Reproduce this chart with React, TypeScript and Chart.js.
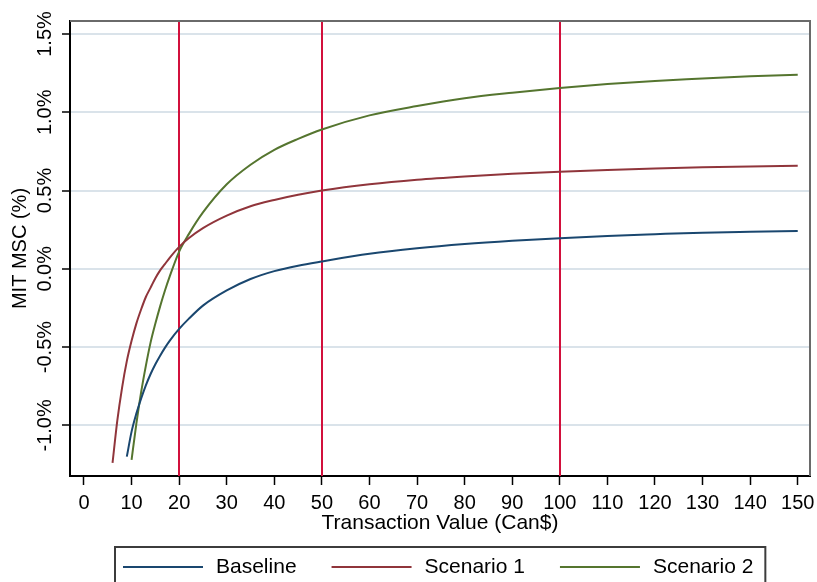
import React, { useEffect, useRef } from "react";
import { Chart, registerables } from "chart.js";

Chart.register(...registerables);

// ---- Data ----
const transactionValues = [6, 7, 8, 9, 10, 11, 12, 13, 14, 15, 16, 17, 18, 20, 22, 25, 30, 35, 40, 45, 50, 60, 70, 80, 90, 100, 110, 120, 130, 140, 150];

const baseline = [null, null, null, -1.2, -1.04, -0.925, -0.83, -0.745, -0.672, -0.61, -0.555, -0.505, -0.46, -0.384, -0.32, -0.235, -0.138, -0.065, -0.015, 0.02, 0.047, 0.096, 0.131, 0.158, 0.179, 0.196, 0.21, 0.221, 0.231, 0.237, 0.242];

const scenario1 = [-1.24, -0.97, -0.76, -0.59, -0.46, -0.35, -0.26, -0.18, -0.12, -0.06, -0.01, 0.03, 0.07, 0.14, 0.195, 0.26, 0.34, 0.4, 0.44, 0.473, 0.5, 0.54, 0.569, 0.59, 0.607, 0.62, 0.631, 0.64, 0.648, 0.654, 0.658];

const scenario2 = [null, null, null, null, -1.22, -0.99, -0.79, -0.62, -0.47, -0.35, -0.24, -0.14, -0.05, 0.11, 0.22, 0.36, 0.54, 0.665, 0.76, 0.83, 0.89, 0.98, 1.04, 1.09, 1.125, 1.155, 1.18, 1.2, 1.215, 1.23, 1.24];

const seriesLabels = ["Baseline", "Scenario 1", "Scenario 2"];
const seriesColors = ["#1a476f", "#90353b", "#55752f"];

const xTicks = [0, 10, 20, 30, 40, 50, 60, 70, 80, 90, 100, 110, 120, 130, 140, 150];
const yTicks = [-1.0, -0.5, 0.0, 0.5, 1.0, 1.5];
const yTickLabels = ["-1.0%", "-0.5%", "0.0%", "0.5%", "1.0%", "1.5%"];
const referenceLines = [20, 50, 100];

const FONT = "'Liberation Sans', Arial, sans-serif";

const toPoints = (vals: (number | null)[]) =>
  transactionValues
    .map((x, i) => ({ x, y: vals[i] }))
    .filter((p) => p.y !== null) as { x: number; y: number }[];

const decorPlugin = {
  id: "stataDecor",
  beforeDatasetsDraw(chart: any) {
    const { ctx, chartArea } = chart;
    const { left, right, top, bottom } = chartArea;
    const xScale = chart.scales.x;
    ctx.save();
    // reference lines
    ctx.strokeStyle = "#d2103c";
    ctx.lineWidth = 2;
    referenceLines.forEach((v) => {
      const px = Math.round(xScale.getPixelForValue(v));
      ctx.beginPath();
      ctx.moveTo(px, top);
      ctx.lineTo(px, bottom);
      ctx.stroke();
    });
    // top and right frame
    ctx.strokeStyle = "#6a6a6a";
    ctx.lineWidth = 2;
    ctx.beginPath();
    ctx.moveTo(left, top);
    ctx.lineTo(right, top);
    ctx.lineTo(right, bottom);
    ctx.stroke();
    ctx.restore();
  },
  afterDraw(chart: any) {
    const { ctx, chartArea } = chart;
    const yScale = chart.scales.y;
    ctx.save();
    // rotated y tick labels
    ctx.font = `20px ${FONT}`;
    ctx.fillStyle = "#000";
    ctx.textAlign = "center";
    ctx.textBaseline = "middle";
    yTicks.forEach((v, i) => {
      const py = yScale.getPixelForValue(v);
      ctx.save();
      ctx.translate(chartArea.left - 25, py);
      ctx.rotate(-Math.PI / 2);
      ctx.fillText(yTickLabels[i], 0, 0);
      ctx.restore();
    });

    // legend
    ctx.font = `21px ${FONT}`;
    const datasets = chart.data.datasets;
    const lineLen = 80;
    const textGap = 13;
    const itemGap = 35;
    const padL = 8;
    const padR = 12;
    const widths = datasets.map((d: any) => ctx.measureText(d.label).width);
    const total =
      padL +
      widths.reduce((s: number, w: number) => s + lineLen + textGap + w, 0) +
      itemGap * (datasets.length - 1) +
      padR;
    const cx = (chartArea.left + chartArea.right) / 2;
    const boxLeft = Math.round(cx - total / 2);
    const boxTop = 547;
    ctx.strokeStyle = "#3c3c3c";
    ctx.lineWidth = 2;
    ctx.strokeRect(boxLeft, boxTop, total, 80);
    const ly = 567;
    let x = boxLeft + padL;
    datasets.forEach((d: any, i: number) => {
      ctx.strokeStyle = d.borderColor;
      ctx.lineWidth = 2;
      ctx.beginPath();
      ctx.moveTo(x, ly);
      ctx.lineTo(x + lineLen, ly);
      ctx.stroke();
      x += lineLen + textGap;
      ctx.fillStyle = "#000";
      ctx.textAlign = "left";
      ctx.textBaseline = "middle";
      ctx.fillText(d.label, x, ly);
      x += widths[i] + itemGap;
    });
    ctx.restore();
  },
};

export default function App() {
  const canvasRef = useRef<HTMLCanvasElement | null>(null);

  useEffect(() => {
    const canvas = canvasRef.current;
    if (!canvas) return;
    const series = [baseline, scenario1, scenario2];
    const chart = new Chart(canvas, {
      type: "line",
      data: {
        datasets: series.map((vals, i) => ({
          label: seriesLabels[i],
          data: toPoints(vals),
          borderColor: seriesColors[i],
          backgroundColor: seriesColors[i],
          borderWidth: 2,
          pointRadius: 0,
          fill: false,
          cubicInterpolationMode: "monotone" as const,
        })),
      },
      options: {
        responsive: false,
        animation: false,
        devicePixelRatio: 1,
        layout: { padding: { left: 0, right: 7, top: 21, bottom: 0 } },
        plugins: {
          legend: { display: false },
          tooltip: { enabled: false },
        },
        scales: {
          x: {
            type: "linear",
            min: -2.94,
            max: 152.58,
            afterBuildTicks: (s: any) => {
              s.ticks = xTicks.map((v) => ({ value: v }));
            },
            ticks: {
              font: { family: FONT, size: 20 },
              color: "#000",
              padding: 6,
              maxRotation: 0,
              minRotation: 0,
              autoSkip: false,
            },
            grid: {
              drawOnChartArea: false,
              drawTicks: true,
              tickLength: 9,
              tickColor: "#000",
              tickWidth: 1.5,
            },
            border: { display: true, color: "#000", width: 2 },
            title: {
              display: true,
              text: "Transaction Value (Can$)",
              font: { family: FONT, size: 21 },
              color: "#000",
              padding: { top: 0, bottom: 46 },
            },
            afterFit: (s: any) => {
              s.height = 106;
              s.paddingLeft = 0;
              s.paddingRight = 0;
            },
          },
          y: {
            type: "linear",
            min: -1.3235,
            max: 1.583,
            afterBuildTicks: (s: any) => {
              s.ticks = yTicks.map((v) => ({ value: v }));
            },
            ticks: { display: false },
            grid: {
              color: "#dae3ea",
              lineWidth: 2,
              drawTicks: true,
              tickLength: 8,
              tickColor: "#000",
              tickWidth: 1.5,
            },
            border: { display: true, color: "#000", width: 2 },
            title: {
              display: true,
              text: "MIT MSC (%)",
              font: { family: FONT, size: 20 },
              color: "#000",
              padding: { top: 8, bottom: 0 },
            },
            afterFit: (s: any) => {
              s.width = 70;
              s.paddingTop = 0;
              s.paddingBottom = 0;
            },
          },
        },
      } as any,
      plugins: [decorPlugin],
    });
    return () => chart.destroy();
  }, []);

  return (
    <div style={{ position: "absolute", left: 0, top: 0, width: 817, height: 582, background: "#fff" }}>
      <canvas ref={canvasRef} width={817} height={582} style={{ display: "block" }} />
    </div>
  );
}
